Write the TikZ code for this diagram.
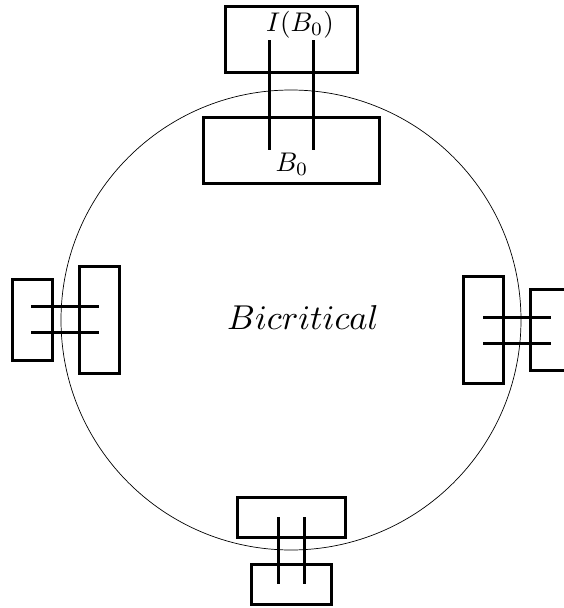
\documentclass[tikz,border=0pt]{standalone}
\usepackage{graphicx}
\begin{document}
\begin{tikzpicture}[x=1pt,y=-1pt,
  blk/.style={draw,line width=3pt},
  bar/.style={line width=3pt},
  lbl/.style={inner sep=0pt}]
\useasboundingbox (0,0) rectangle (564,608);
% the bicritical graph
\draw[line width=0.7pt] (291,320) circle (230);
\node[lbl] (bic) at (303,318) {\scalebox{3.45}{$Bicritical$}};
% top: B_0 and its neighbourhood I(B_0)
\draw[blk] (225,6) rectangle (357,72);
\draw[blk] (203,117) rectangle (379,183);
\node[lbl] (ib) at (300,25) {\scalebox{2.7}{$I(B_0)$}};
\node[lbl] (b) at (292,164) {\scalebox{2.7}{$B_0$}};
\draw[bar] (269,40) -- (269,150);
\draw[bar] (313,40) -- (313,150);
% left
\draw[blk] (12,279) rectangle (52,360);
\draw[blk] (79,266) rectangle (119,373);
\draw[bar] (31,306) -- (99,306);
\draw[bar] (31,332) -- (99,332);
% right
\draw[blk] (463,276) rectangle (503,383);
\draw[blk] (530,289) rectangle (575,370);
\draw[bar] (483,317) -- (551,317);
\draw[bar] (483,343) -- (551,343);
% bottom
\draw[blk] (237,497) rectangle (345,537);
\draw[blk] (251,564) rectangle (331,604);
\draw[bar] (278,517) -- (278,584);
\draw[bar] (304,517) -- (304,584);
\end{tikzpicture}
\end{document}
